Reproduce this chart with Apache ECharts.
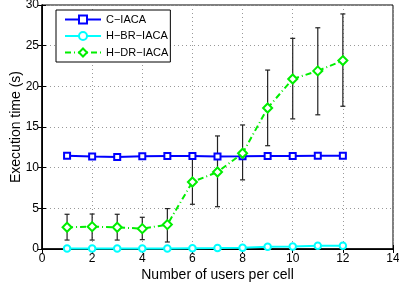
<!DOCTYPE html>
<html>
<head>
<meta charset="utf-8">
<script src="https://cdn.jsdelivr.net/npm/echarts@6/dist/echarts.min.js"></script>
<style>
  html, body { margin: 0; padding: 0; background: #fff; }
  #chart { width: 399px; height: 286px; }
</style>
</head>
<body>
<div id="chart"></div>
<script>
// Data
const users = [1, 2, 3, 4, 5, 6, 7, 8, 9, 10, 11, 12];
const cIaca = [11.45, 11.36, 11.32, 11.4, 11.44, 11.44, 11.38, 11.4, 11.44, 11.42, 11.45, 11.45];
const hBrIaca = [0.05, 0.05, 0.05, 0.05, 0.05, 0.1, 0.12, 0.15, 0.27, 0.3, 0.4, 0.4];
const hDrIaca = [2.67, 2.75, 2.67, 2.5, 3.0, 8.24, 9.47, 11.77, 17.34, 20.9, 21.9, 23.17];
const hDrLow = [1.1, 1.1, 1.1, 1.15, 0.86, 5.5, 5.2, 8.5, 12.7, 16.0, 16.5, 17.55];
const hDrHigh = [4.27, 4.3, 4.27, 3.9, 4.97, 11.07, 13.9, 15.25, 22.0, 25.9, 27.2, 28.9];
const xTicks = [0, 14, 2];
const yTicks = [0, 30, 5];

const font = 'Liberation Sans';

let chart = echarts.init(document.getElementById('chart'));

const pair = (xs, ys) => xs.map((x, i) => [x, ys[i]]);
const errData = users.map((x, i) => [x, hDrLow[i], hDrHigh[i]]);

const axisCommon = {
    axisLine: { show: true, onZero: false, lineStyle: { color: '#000', width: 1.5 } },
    axisTick: { show: true, inside: true, length: 4, lineStyle: { color: '#000' } }
};

let option = {
    animation: false,
    grid: {
        left: 42, right: 6, top: 5, bottom: 37,
        containLabel: false, outerBoundsMode: 'none',
        show: true, borderColor: '#000', borderWidth: 1
    },
    legend: {
        left: 56, top: 10, orient: 'vertical',
        itemWidth: 36, itemHeight: 10, itemGap: 5.5,
        padding: [4, 2, 4, 8],
        backgroundColor: '#fff', borderColor: '#000', borderWidth: 1,
        textStyle: { fontFamily: font, fontSize: 11, color: '#000' },
        data: ['C\u2212IACA', 'H\u2212BR\u2212IACA', 'H\u2212DR\u2212IACA']
    },
    xAxis: [{
        type: 'value', min: xTicks[0], max: xTicks[1], interval: xTicks[2],
        name: 'Number of users per cell', nameLocation: 'middle', nameGap: 19,
        nameMoveOverlap: false,
        nameTextStyle: { fontFamily: font, fontSize: 14, color: '#000' },
        axisLabel: { fontFamily: font, fontSize: 12, color: '#000', margin: 4 },
        splitLine: { show: true, lineStyle: { color: '#999', type: [1, 3] } },
        ...axisCommon
    }, {
        type: 'value', position: 'top', min: xTicks[0], max: xTicks[1], interval: xTicks[2],
        axisLabel: { show: false }, splitLine: { show: false },
        ...axisCommon, axisLine: { show: true, lineStyle: { color: '#000', width: 1 } }
    }],
    yAxis: [{
        type: 'value', min: yTicks[0], max: yTicks[1], interval: yTicks[2],
        name: 'Execution time (s)', nameLocation: 'middle', nameGap: 19,
        nameMoveOverlap: false,
        nameTextStyle: { fontFamily: font, fontSize: 14, color: '#000' },
        axisLabel: { fontFamily: font, fontSize: 12, color: '#000', margin: 3 },
        splitLine: { show: true, lineStyle: { color: '#999', type: [1, 3] } },
        ...axisCommon
    }, {
        type: 'value', position: 'right', min: yTicks[0], max: yTicks[1], interval: yTicks[2],
        axisLabel: { show: false }, splitLine: { show: false },
        ...axisCommon, axisLine: { show: true, lineStyle: { color: '#000', width: 1 } }
    }],
    series: [
        {
            name: 'H\u2212DR error', type: 'custom', z: 1,
            data: errData,
            renderItem: (params, api) => {
                const x = api.value(0);
                const lo = api.coord([x, api.value(1)]);
                const hi = api.coord([x, api.value(2)]);
                const style = { stroke: '#222', lineWidth: 1.2 };
                return {
                    type: 'group',
                    children: [
                        { type: 'line', shape: { x1: lo[0], y1: lo[1], x2: hi[0], y2: hi[1] }, style },
                        { type: 'line', shape: { x1: lo[0] - 2.5, y1: lo[1], x2: lo[0] + 2.5, y2: lo[1] }, style },
                        { type: 'line', shape: { x1: hi[0] - 2.5, y1: hi[1], x2: hi[0] + 2.5, y2: hi[1] }, style }
                    ]
                };
            }
        },
        {
            name: 'C\u2212IACA', type: 'line', z: 3,
            data: pair(users, cIaca),
            color: '#0000ff',
            symbol: 'emptyRect', symbolSize: 6,
            lineStyle: { color: '#0000ff', width: 2 },
            itemStyle: { color: '#0000ff', borderColor: '#0000ff', borderWidth: 1.8 }
        },
        {
            name: 'H\u2212BR\u2212IACA', type: 'line', z: 3,
            data: pair(users, hBrIaca),
            color: '#00ffff',
            symbol: 'emptyCircle', symbolSize: 6.5,
            lineStyle: { color: '#00ffff', width: 2 },
            itemStyle: { color: '#00ffff', borderColor: '#00ffff', borderWidth: 1.8 }
        },
        {
            name: 'H\u2212DR\u2212IACA', type: 'line', z: 4,
            data: pair(users, hDrIaca),
            color: '#00ee00',
            symbol: 'emptyDiamond', symbolSize: 9,
            lineStyle: { color: '#00ee00', width: 2, type: [6, 3, 1, 3] },
            itemStyle: { color: '#00ee00', borderColor: '#00ee00', borderWidth: 2.5 }
        }
    ]
};

chart.setOption(option);
</script>
</body>
</html>
